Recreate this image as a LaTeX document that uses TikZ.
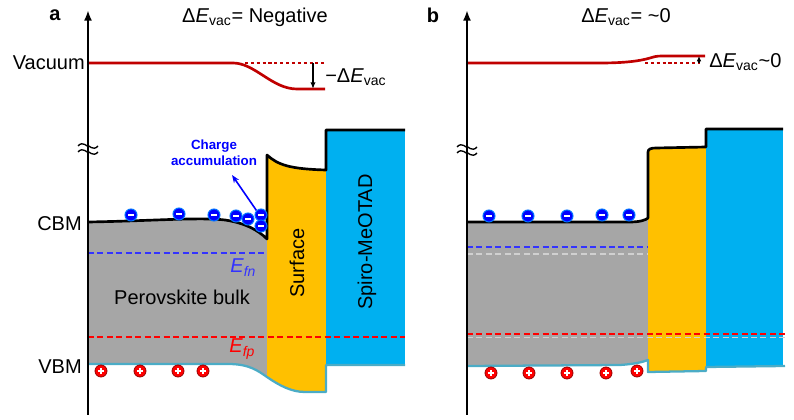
\documentclass[tikz,border=0pt]{standalone}
\usepackage{fontspec}
\setmainfont{Liberation Sans}
\usepackage{xcolor}
\usepackage{tikz}
\usetikzlibrary{arrows.meta}

\definecolor{vacred}{HTML}{C00000}
\definecolor{bulkgray}{HTML}{A6A6A6}
\definecolor{surforange}{HTML}{FFC000}
\definecolor{spirocyan}{HTML}{00B0F0}
\definecolor{vbmblue}{HTML}{4BACC6}
\definecolor{fnblue}{HTML}{3333FF}
\definecolor{fpred}{HTML}{FF0000}
\definecolor{accblue}{HTML}{0000FF}
\definecolor{ghostgray}{HTML}{D0D0D0}

\tikzset{
  electron/.style={circle, fill=accblue, draw=blue!55!cyan, line width=0.8pt, minimum size=9pt, inner sep=0pt,
    path picture={\draw[white, line width=1.3pt] ([xshift=-2.1pt]path picture bounding box.center) -- ([xshift=2.1pt]path picture bounding box.center);}},
  hole/.style={circle, fill=fpred, draw=red!60!black, line width=0.6pt, minimum size=9pt, inner sep=0pt,
    path picture={\draw[white, line width=1.2pt] ([xshift=-2.3pt]path picture bounding box.center) -- ([xshift=2.3pt]path picture bounding box.center) ([yshift=-2.3pt]path picture bounding box.center) -- ([yshift=2.3pt]path picture bounding box.center);}},
  axisline/.style={line width=1.8pt, -{Latex[length=8pt,width=6pt]}},
  cbmline/.style={line width=2pt, line join=round},
  vbmline/.style={vbmblue, line width=1.7pt, line join=round},
  vacline/.style={vacred, line width=2pt},
  vacdots/.style={vacred, line width=2.1pt, dash pattern=on 2.3pt off 2.1pt},
  fermi/.style={line width=1.1pt, dash pattern=on 4.5pt off 2.6pt},
  lbl/.style={font=\fontsize{15}{18}\selectfont, inner sep=0.75pt},
  panel/.style={font=\fontsize{15}{18}\selectfont\bfseries, inner sep=0.75pt},
}

\begin{document}
\begin{tikzpicture}[x=0.75pt,y=0.75pt,yscale=-1,xscale=1]

\useasboundingbox (0,0) rectangle (794,420);

\fill[bulkgray] (88,222) .. controls (150,221) and (200,217) .. (225,220) .. controls (245,223) and (258,230) .. (267,239) -- (267,377) .. controls (258,371) and (250,364) .. (228,364) -- (88,364) -- cycle ;

\fill[surforange] (267,155) .. controls (278,165) and (290,169) .. (326,170) -- (326,392) -- (305,392) .. controls (292,392) and (280,386) .. (267,377) -- cycle ;

\fill[spirocyan] (326,130) rectangle (405,365) ;

\draw[fermi, fnblue] (88,253) -- (267,253) ;

\draw[fermi, fpred] (88,337) -- (405,337) ;

\draw[cbmline] (88,222) .. controls (150,221) and (200,217) .. (225,220) .. controls (245,223) and (258,230) .. (267,239) -- (267,155) .. controls (278,165) and (290,169) .. (326,170) -- (326,130) -- (405,130) ;

\draw[vbmline] (88,364) -- (228,364) .. controls (250,364) and (258,371) .. (267,377) .. controls (280,386) and (292,392) .. (305,392) -- (326,392) -- (326,365) -- (405,365) ;

\draw[vacline] (88,63) -- (233,63) .. controls (255,63) and (272,89) .. (297,89) -- (325,89) ;

\draw[vacdots] (245,63) -- (325,63) ;

\coordinate (vactopa) at (313,63);
\coordinate (vacbota) at (313,89);
\draw[line width=1pt, -{Latex[length=5pt,width=4pt]}] (vactopa) -- (vacbota) ;

\draw[axisline] (88,415) -- (88,10) ;

\draw[line width=1pt] (78,146) .. controls (83,140) and (88,148) .. (88,146) .. controls (88,144) and (93,152) .. (98,146) ;
\draw[line width=1pt] (78,152) .. controls (83,146) and (88,154) .. (88,152) .. controls (88,150) and (93,158) .. (98,152) ;

\foreach \ex/\ey [count=\i] in {131/215, 179/214, 214/215, 236/216, 248/219, 261/215, 261/226}
  \node[electron] (ea\i) at (\ex,\ey) {};

\foreach \hx [count=\i] in {101, 140, 178, 203}
  \node[hole] (ha\i) at (\hx,371) {};

\node[font=\fontsize{10}{12}\selectfont\bfseries, text=accblue, align=center, inner sep=0.75pt] (acc) at (214,153) {Charge\\accumulation};

\coordinate (acctip) at (232,175);
\draw[accblue, line width=1.2pt, -{Stealth[length=6pt,width=4.5pt]}] (ea6.north west) -- (acctip) ;

\node[panel] (panela) at (55,15) {a};

\node[lbl] (titlea) at (255,17) {Δ\textit{E}\textsubscript{vac}= Negative};

\node[lbl, anchor=west] (dvaca) at (324,77) {−Δ\textit{E}\textsubscript{vac}};

\node[lbl, anchor=east] (vaclbl) at (86,63) {Vacuum};

\node[lbl, anchor=east] (cbmlbl) at (83,224) {CBM};

\node[lbl, anchor=east] (vbmlbl) at (83,367) {VBM};

\node[lbl] (bulka) at (182,297) {Perovskite bulk};

\node[lbl, rotate=90] (surfa) at (297,263) {Surface};

\node[lbl, rotate=90] (spiroa) at (367,242) {Spiro-MeOTAD};

\node[lbl, text=fnblue, anchor=base west] (efn) at (229,273) {\textit{E}\textsubscript{\textit{fn}}};

\node[lbl, text=fpred, anchor=base west] (efp) at (228,353) {\textit{E}\textsubscript{\textit{fp}}};

\fill[bulkgray] (467,222) -- (630,222) .. controls (640,222) and (646,220) .. (648,218) -- (648,360) .. controls (643,362) and (635,364) .. (620,365) -- (467,366) -- cycle ;

\fill[surforange] (648,152) .. controls (648,149) and (651,148) .. (656,148) -- (706,147) -- (706,371) -- (648,372) -- cycle ;

\fill[spirocyan] (706,129) rectangle (783,367) ;

\draw[fermi, fnblue] (467,247) -- (648,247) ;

\draw[fermi, ghostgray] (467,254) -- (648,254) ;

\draw[fermi, fpred] (467,334) -- (785,334) ;

\draw[fermi, ghostgray] (467,337.5) -- (785,337.5) ;

\draw[cbmline] (467,222) -- (630,222) .. controls (640,222) and (646,220) .. (648,218) -- (648,152) .. controls (648,149) and (651,148) .. (656,148) -- (706,147) -- (706,129) -- (783,129) ;

\draw[vbmline] (467,366) -- (620,365) .. controls (635,364) and (643,362) .. (648,360) -- (648,372) -- (706,371) -- (706,367) -- (785,366) ;

\draw[vacline] (467,63) -- (600,63) .. controls (625,63) and (640,61) .. (650,58) .. controls (653,57) and (656,56) .. (662,56) -- (705,56) ;

\draw[vacdots] (645,63) -- (700,63) ;

\coordinate (vacbotb) at (699,63);
\coordinate (vactopb) at (699,56);
\draw[line width=1pt, -{Latex[length=4pt,width=3.5pt]}] (vacbotb) -- (vactopb) ;

\draw[axisline] (467,415) -- (467,10) ;

\draw[line width=1pt] (457,147) .. controls (462,141) and (467,149) .. (467,147) .. controls (467,145) and (472,153) .. (477,147) ;
\draw[line width=1pt] (457,153) .. controls (462,147) and (467,155) .. (467,153) .. controls (467,151) and (472,159) .. (477,153) ;

\foreach \ex/\ey [count=\i] in {489/216, 528/216, 567/216, 602/215, 629/215}
  \node[electron] (eb\i) at (\ex,\ey) {};

\foreach \hx/\hy [count=\i] in {491/373, 529/373, 567/373, 606/373, 637/371}
  \node[hole] (hb\i) at (\hx,\hy) {};

\node[panel] (panelb) at (433,15) {b};

\node[lbl] (titleb) at (626,17) {Δ\textit{E}\textsubscript{vac}= \textasciitilde 0};

\node[lbl, anchor=west] (dvacb) at (708,62) {Δ\textit{E}\textsubscript{vac}\textasciitilde 0};

\end{tikzpicture}
\end{document}
